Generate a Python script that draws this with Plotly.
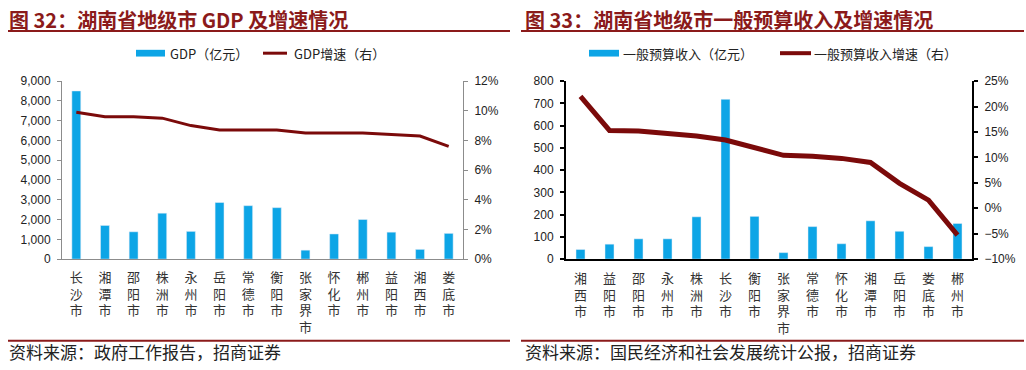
import plotly.graph_objects as go

# ---- Data: 图32 GDP ----
gdp_cities = ["长沙市", "湘潭市", "邵阳市", "株洲市", "永州市", "岳阳市", "常德市",
              "衡阳市", "张家界市", "怀化市", "郴州市", "益阳市", "湘西市", "娄底市"]
gdp_values = [8500, 1700, 1380, 2320, 1400, 2860, 2700, 2600, 450, 1270, 2000, 1360, 490, 1300]
gdp_growth = [9.9, 9.6, 9.6, 9.5, 9.0, 8.7, 8.7, 8.7, 8.5, 8.5, 8.5, 8.4, 8.3, 7.6]

# ---- Data: 图33 一般预算收入 ----
rev_cities = ["湘西市", "益阳市", "邵阳市", "永州市", "株洲市", "长沙市", "衡阳市",
              "张家界市", "常德市", "怀化市", "湘潭市", "岳阳市", "娄底市", "郴州市"]
rev_values = [43, 67, 91, 91, 190, 718, 192, 29, 146, 69, 172, 125, 56, 160]
rev_growth = [22.0, 15.3, 15.2, 14.7, 14.2, 13.4, 12.0, 10.4, 10.2, 9.8, 9.0, 4.9, 1.6, -5.3]

BAR = "#0DA5E6"
LINE = "#7B0A0A"
RED = "#8B1A1A"
CJK = "Noto Sans CJK SC"
NUM = "Liberation Sans"
W, H = 1026, 370


def vert(s):
    return "<br>".join(list(s))


def px(x):
    return x / W


def py(y):
    return (H - y) / H


fig = go.Figure()

fig.add_trace(go.Bar(x=[vert(c) for c in gdp_cities], y=gdp_values, name="GDP（亿元）",
                     marker_color=BAR, width=0.31, xaxis="x", yaxis="y", showlegend=False))
fig.add_trace(go.Scatter(x=[vert(c) for c in gdp_cities], y=gdp_growth, name="GDP增速（右）",
                         mode="lines", line=dict(color=LINE, width=3), xaxis="x", yaxis="y2",
                         showlegend=False))
fig.add_trace(go.Bar(x=[vert(c) for c in rev_cities], y=rev_values, name="一般预算收入（亿元）",
                     marker_color=BAR, width=0.31, xaxis="x2", yaxis="y3", showlegend=False))
fig.add_trace(go.Scatter(x=[vert(c) for c in rev_cities], y=rev_growth, name="一般预算收入增速（右）",
                         mode="lines", line=dict(color=LINE, width=5), xaxis="x2", yaxis="y4",
                         showlegend=False))

ydom = [py(262), py(77)]
tickfont = dict(family=NUM, size=12, color="#222")
catfont = dict(family=CJK, size=13, color="#333")
gray = "#8c8c8c"

fig.update_layout(
    width=W, height=H,
    margin=dict(l=0, r=0, t=0, b=0),
    paper_bgcolor="white", plot_bgcolor="white",
    font=dict(family=CJK, color="#222"),
    showlegend=False,
    xaxis=dict(domain=[px(62), px(463)], type="category", anchor="y", showline=True,
               linecolor=gray, linewidth=1, ticks="", tickfont=catfont, showgrid=False,
               ticklabelstandoff=6),
    yaxis=dict(domain=ydom, range=[0, 9000], dtick=1000, tickformat=",d", showline=True,
               linecolor=gray, ticks="outside", ticklen=4, tickcolor=gray, tickfont=tickfont,
               showgrid=False, zeroline=False, anchor="x", ticklabelstandoff=4),
    yaxis2=dict(domain=ydom, range=[0, 12], dtick=2, ticksuffix="%", overlaying="y", side="right",
                showline=True, linecolor=gray, ticks="outside", ticklen=4, tickcolor=gray,
                tickfont=tickfont, showgrid=False, zeroline=False, anchor="x", ticklabelstandoff=4),
    xaxis2=dict(domain=[px(566), px(972)], type="category", anchor="y3", showline=True,
                linecolor="black", linewidth=2, ticks="", tickfont=catfont, showgrid=False,
                ticklabelstandoff=6),
    yaxis3=dict(domain=ydom, range=[0, 800], dtick=100, showline=True, linecolor="black",
                linewidth=2, ticks="outside", ticklen=4, tickcolor="black", tickwidth=2,
                tickfont=tickfont, showgrid=False, zeroline=False, anchor="x2", ticklabelstandoff=4),
    yaxis4=dict(domain=ydom, range=[-10, 25], dtick=5, ticksuffix="%", overlaying="y3", side="right",
                showline=True, linecolor="black", linewidth=2, ticks="outside", ticklen=4,
                tickcolor="black", tickwidth=2, tickfont=tickfont, showgrid=False, zeroline=False,
                anchor="x2", ticklabelstandoff=4),
)

# Titles
fig.add_annotation(text="<b>图 32：湖南省地级市 GDP 及增速情况</b>", x=px(7), y=py(13),
                   xref="paper", yref="paper", xanchor="left", yanchor="middle", showarrow=False,
                   font=dict(family=CJK, size=20, color=RED))
fig.add_annotation(text="<b>图 33：湖南省地级市一般预算收入及增速情况</b>", x=px(523), y=py(13),
                   xref="paper", yref="paper", xanchor="left", yanchor="middle", showarrow=False,
                   font=dict(family=CJK, size=20, color=RED))
# Sources
fig.add_annotation(text="资料来源：政府工作报告，招商证券", x=px(7), y=py(358),
                   xref="paper", yref="paper", xanchor="left", yanchor="middle", showarrow=False,
                   font=dict(family=CJK, size=17, color="#222"))
fig.add_annotation(text="资料来源：国民经济和社会发展统计公报，招商证券", x=px(523), y=py(358),
                   xref="paper", yref="paper", xanchor="left", yanchor="middle", showarrow=False,
                   font=dict(family=CJK, size=17, color="#222"))

# Rules under titles and above sources
for x0, x1 in [(8, 510), (521, 1024)]:
    for yy in [25, 347]:
        fig.add_shape(type="line", xref="paper", yref="paper", x0=px(x0), x1=px(x1),
                      y0=py(yy), y1=py(yy), line=dict(color=RED, width=2))

# Legend keys (drawn manually to mimic the wide swatches)
legend_items = [
    ("bar", 136, 165, "GDP（亿元）", 168, 3),
    ("line", 263, 287, "GDP增速（右）", 292, 3),
    ("bar", 589, 619, "一般预算收入（亿元）", 621, 4),
    ("line", 780, 811, "一般预算收入增速（右）", 812, 4),
]
for kind, x0, x1, label, tx, lw in legend_items:
    if kind == "bar":
        fig.add_shape(type="rect", xref="paper", yref="paper", x0=px(x0), x1=px(x1),
                      y0=py(51.5), y1=py(44.5), fillcolor=BAR, line=dict(width=0))
    else:
        fig.add_shape(type="line", xref="paper", yref="paper", x0=px(x0), x1=px(x1),
                      y0=py(48), y1=py(48), line=dict(color=LINE, width=lw))
    fig.add_annotation(text=label, x=px(tx), y=py(48), xref="paper", yref="paper",
                       xanchor="left", yanchor="middle", showarrow=False,
                       font=dict(family=CJK, size=13, color="#222"))

fig.write_html("out.html", config={"displayModeBar": False},
               post_script="document.body.style.margin='0';")
